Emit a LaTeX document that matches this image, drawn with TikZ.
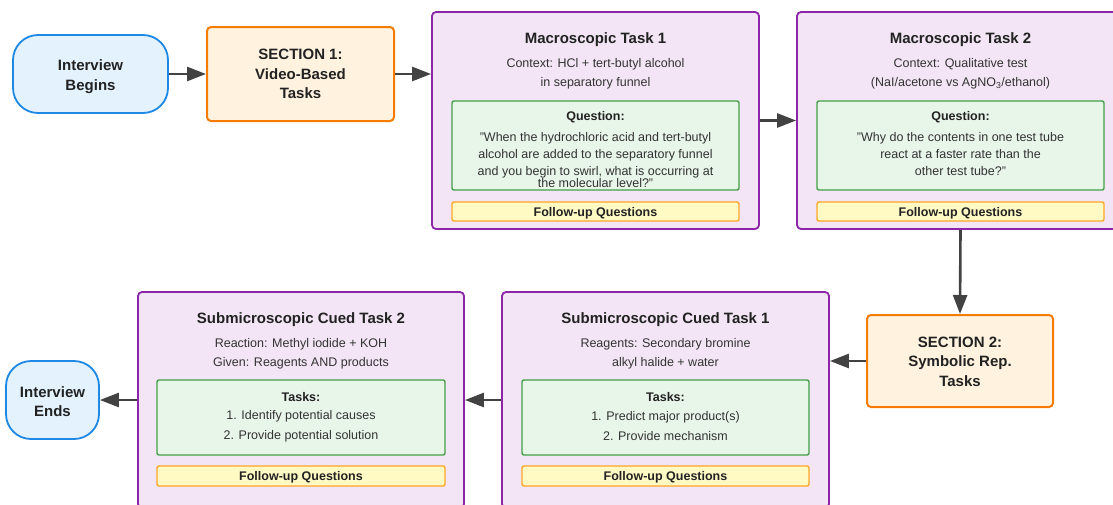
\documentclass[tikz,border=0pt]{standalone}
\usepackage{fontspec}
\setmainfont{Liberation Sans}
\usetikzlibrary{arrows.meta}
\definecolor{bluebd}{HTML}{1E88E5}
\definecolor{bluebg}{HTML}{E3F2FD}
\definecolor{orangebd}{HTML}{F57C00}
\definecolor{orangebg}{HTML}{FFF3E0}
\definecolor{purplebd}{HTML}{8E24AA}
\definecolor{purplebg}{HTML}{F3E5F5}
\definecolor{greenbd}{HTML}{43A047}
\definecolor{greenbg}{HTML}{E8F5E9}
\definecolor{fubd}{HTML}{FFA726}
\definecolor{fubg}{HTML}{FFF9C4}
\definecolor{arrowc}{HTML}{424242}
\definecolor{txt}{HTML}{222222}
\definecolor{txtb}{HTML}{333333}
\begin{document}
\begin{tikzpicture}[x=1pt,y=-1pt,
  termbox/.style={draw=bluebd, fill=bluebg, line width=1.8pt, rounded corners=25pt, inner sep=0pt},
  secbox/.style={draw=orangebd, fill=orangebg, line width=2pt, rounded corners=4pt, inner sep=0pt},
  taskbox/.style={draw=purplebd, fill=purplebg, line width=1.8pt, rounded corners=4pt, inner sep=0pt},
  qbox/.style={draw=greenbd, fill=greenbg, line width=1.4pt, rounded corners=2pt, inner sep=0pt},
  fubox/.style={draw=fubd, fill=fubg, line width=1.4pt, rounded corners=2pt, inner sep=0pt},
  futext/.style={font=\fontsize{12.5}{14}\selectfont\bfseries, text=txt, inner sep=0pt},
  bigbold/.style={font=\fontsize{15}{19.5}\selectfont\bfseries, text=txt, align=center, inner sep=0pt},
  tasktitle/.style={font=\fontsize{15}{18}\selectfont\bfseries, text=txt, inner sep=0pt},
  ctx/.style={font=\fontsize{12.5}{19}\selectfont, text=txtb, align=center, inner sep=0pt},
  qhead/.style={font=\fontsize{12.5}{14}\selectfont\bfseries, text=txt, inner sep=0pt},
  qtext/.style={font=\fontsize{12.5}{17}\selectfont, text=txtb, align=center, inner sep=0pt},
  ltext/.style={font=\fontsize{12.5}{20}\selectfont, text=txtb, align=center, inner sep=0pt},
  flow/.style={draw=arrowc, line width=2.6pt, -{Triangle[length=19pt,width=14pt]}}
]
\useasboundingbox (0,0) rectangle (1113,504);
\clip (0,0) rectangle (1113,504);

% ---- terminals and sections
\node[termbox, minimum width=155pt, minimum height=78pt] (begin) at (90.5,74) {};
\node[bigbold] (begintxt) at (90.5,76.5) {Interview\\Begins};

\node[secbox, minimum width=187pt, minimum height=94pt] (sec1) at (300.5,74) {};
\node[bigbold] (sec1txt) at (300.5,74) {SECTION 1:\\Video-Based\\Tasks};

\node[secbox, minimum width=186pt, minimum height=92pt] (sec2) at (960,361) {};
\node[bigbold] (sec2txt) at (960,361.5) {SECTION 2:\\Symbolic Rep.\\Tasks};

\node[termbox, minimum width=93pt, minimum height=78pt] (ends) at (52.5,400) {};
\node[bigbold] (endstxt) at (52.5,401.5) {Interview\\Ends};

% ---- Macroscopic Task 1
\node[taskbox, minimum width=327pt, minimum height=217pt] (mac1) at (595.5,120.5) {};
\node[tasktitle] (mac1title) at (595.5,40) {Macroscopic Task 1};
\node[ctx] (mac1ctx) at (595.5,73.5) {Context: HCl + tert-butyl alcohol\\in separatory funnel};
\node[qbox, minimum width=287pt, minimum height=89pt] (mac1q) at (595.5,145.5) {};
\node[qhead] (mac1qh) at (595.5,117) {Question:};
\node[qtext] (mac1qt) at (595.5,160) {"When the hydrochloric acid and tert-butyl\\alcohol are added to the separatory funnel\\and you begin to swirl, what is occurring at\\[-5pt]the molecular level?"};
\node[fubox, minimum width=287pt, minimum height=19pt] (mac1fu) at (595.5,211.5) {};
\node[futext] (mac1fut) at (595.5,213) {Follow-up Questions};

% ---- Macroscopic Task 2
\node[taskbox, minimum width=327pt, minimum height=217pt] (mac2) at (960.5,120.5) {};
\node[tasktitle] (mac2title) at (960.5,40) {Macroscopic Task 2};
\node[ctx] (mac2ctx) at (960.5,73.5) {Context: Qualitative test\\(NaI/acetone vs AgNO\textsubscript{3}/ethanol)};
\node[qbox, minimum width=287pt, minimum height=89pt] (mac2q) at (960.5,145.5) {};
\node[qhead] (mac2qh) at (960.5,117) {Question:};
\node[qtext] (mac2qt) at (960.5,154) {"Why do the contents in one test tube\\react at a faster rate than the\\other test tube?"};
\node[fubox, minimum width=287pt, minimum height=19pt] (mac2fu) at (960.5,211.5) {};
\node[futext] (mac2fut) at (960.5,213) {Follow-up Questions};

% ---- Submicroscopic Cued Task 1
\node[taskbox, minimum width=327pt, minimum height=216pt] (sub1) at (665.5,400) {};
\node[tasktitle] (sub1title) at (665.5,320) {Submicroscopic Cued Task 1};
\node[ctx] (sub1ctx) at (665.5,353.5) {Reagents: Secondary bromine\\alkyl halide + water};
\node[qbox, minimum width=287pt, minimum height=75pt] (sub1t) at (665.5,417.5) {};
\node[qhead] (sub1th) at (665.5,397) {Tasks:};
\node[ltext] (sub1tt) at (665.5,426.5) {1. Predict major product(s)\\2. Provide mechanism};
\node[fubox, minimum width=287pt, minimum height=20pt] (sub1fu) at (665.5,476) {};
\node[futext] (sub1fut) at (665.5,477.5) {Follow-up Questions};

% ---- Submicroscopic Cued Task 2
\node[taskbox, minimum width=326pt, minimum height=216pt] (sub2) at (301,400) {};
\node[tasktitle] (sub2title) at (301,320) {Submicroscopic Cued Task 2};
\node[ctx] (sub2ctx) at (301,353.5) {Reaction: Methyl iodide + KOH\\Given: Reagents AND products};
\node[qbox, minimum width=288pt, minimum height=75pt] (sub2t) at (301,417.5) {};
\node[qhead] (sub2th) at (301,397) {Tasks:};
\node[ltext] (sub2tt) at (301,426.5) {1. Identify potential causes\\2. Provide potential solution};
\node[fubox, minimum width=288pt, minimum height=20pt] (sub2fu) at (301,476) {};
\node[futext] (sub2fut) at (301,477.5) {Follow-up Questions};

% ---- connectors
\draw[flow] (begin.east) -- (sec1.west);
\draw[flow] (sec1.east) -- (sec1.east -| mac1.west);
\draw[flow] (mac1.east) -- (mac2.west);
\draw[flow] (mac2.south) -- (sec2.north);
\draw[flow] (sec2.west) -- (sec2.west -| sub1.east);
\draw[flow] (sub1.west) -- (sub2.east);
\draw[flow] (sub2.west) -- (ends.east);
\end{tikzpicture}
\end{document}
